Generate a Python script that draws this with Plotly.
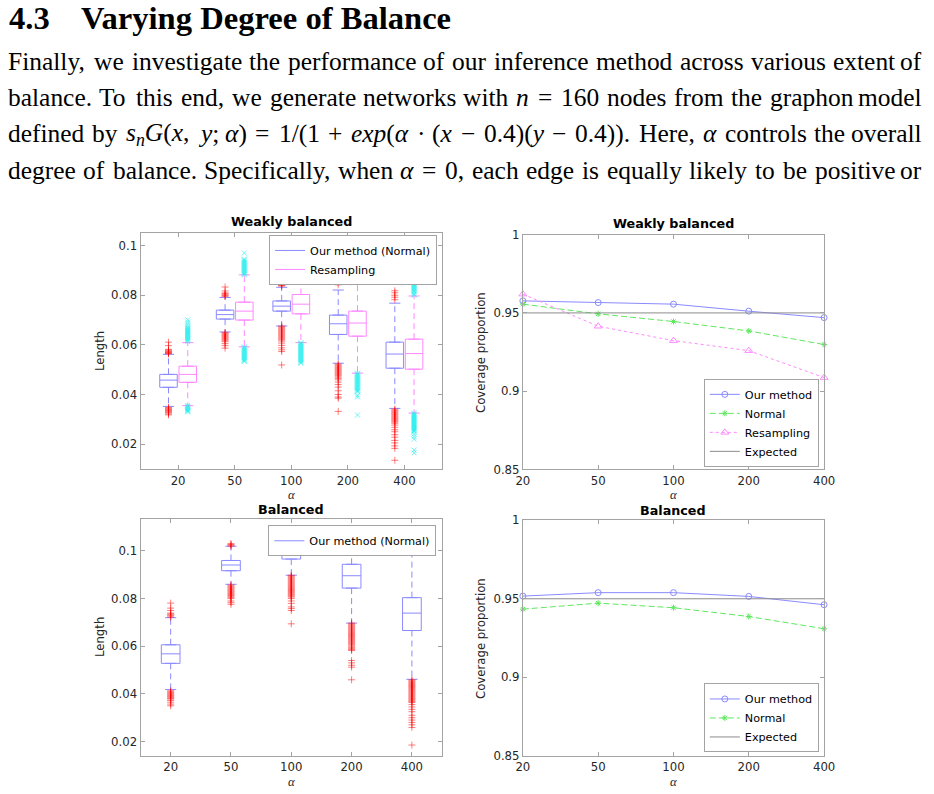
import plotly.graph_objects as go
import re

W, H = 934, 794
# The photograph shows the page with an 8px offset and a slight downscale;
# positions below are given in photo pixels and mapped to figure pixels.
OFF = 8
SX, SY = 934 / 950, 794 / 810
SF = (SX + SY) / 2

# ---------------- data ----------------
alpha_labels = ["20", "50", "100", "200", "400"]
alpha_idx = [1, 2, 3, 4, 5]

# Weakly balanced - interval length - Our method (Normal)
wb_our_q1 = [0.0429, 0.0704, 0.0736, 0.0642, 0.0506]
wb_our_med = [0.0458, 0.0722, 0.0756, 0.0685, 0.0563]
wb_our_q3 = [0.0481, 0.0740, 0.0777, 0.0720, 0.0611]
wb_our_lo = [0.0352, 0.0652, 0.0676, 0.0526, 0.0344]
wb_our_hi = [0.0562, 0.0791, 0.0832, 0.0821, 0.0768]
wb_our_out = [
    [0.0611, 0.0597, 0.0582, 0.0579, 0.0576, 0.0573, 0.0570, 0.0568, 0.0566, 0.0564,
     0.0348, 0.0345, 0.0342, 0.0339, 0.0336, 0.0333, 0.0330, 0.0327, 0.0322, 0.0318],
    [0.0833, 0.0817, 0.0809, 0.0806, 0.0802, 0.0799, 0.0795,
     0.0650, 0.0646, 0.0642, 0.0638, 0.0634, 0.0630, 0.0626, 0.0622, 0.0618, 0.0613,
     0.0605, 0.0597, 0.0587],
    [0.0857, 0.0849, 0.0845, 0.0842, 0.0839, 0.0837,
     0.0676, 0.0672, 0.0668, 0.0664, 0.0660, 0.0656, 0.0652, 0.0648, 0.0644, 0.0640,
     0.0636, 0.0632, 0.0628, 0.0624, 0.0620, 0.0615, 0.0607, 0.0598, 0.0588, 0.0580,
     0.0573, 0.0519],
    [0.0852, 0.0842,
     0.0523, 0.0519, 0.0515, 0.0511, 0.0507, 0.0503, 0.0499, 0.0495, 0.0491, 0.0487,
     0.0483, 0.0479, 0.0475, 0.0470, 0.0465, 0.0459, 0.0450, 0.0440, 0.0430, 0.0415,
     0.0400, 0.0390, 0.0385, 0.0332],
    [0.0818, 0.0810, 0.0800, 0.0792, 0.0782,
     0.0341, 0.0337, 0.0333, 0.0329, 0.0325, 0.0321, 0.0317, 0.0313, 0.0309, 0.0305,
     0.0301, 0.0297, 0.0293, 0.0289, 0.0284, 0.0277, 0.0268, 0.0258, 0.0250, 0.0238,
     0.0228, 0.0215, 0.0205, 0.0193, 0.0183, 0.0135],
]

# Weakly balanced - interval length - Resampling
wb_res_q1 = [0.0449, 0.0700, 0.0725, 0.0635, 0.0502]
wb_res_med = [0.0481, 0.0736, 0.0764, 0.0688, 0.0565]
wb_res_q3 = [0.0514, 0.0772, 0.0803, 0.0736, 0.0623]
wb_res_lo = [0.0355, 0.0592, 0.0609, 0.0486, 0.0325]
wb_res_hi = [0.0609, 0.0882, 0.0930, 0.0887, 0.0797]
wb_res_out = [
    [0.0701, 0.0692, 0.0684, 0.0676, 0.0670, 0.0666, 0.0662, 0.0658, 0.0654, 0.0650,
     0.0646, 0.0642, 0.0638, 0.0634, 0.0630, 0.0626, 0.0622, 0.0618, 0.0613,
     0.0356, 0.0352, 0.0348, 0.0344, 0.0340, 0.0336, 0.0333, 0.0330],
    [0.0970, 0.0946, 0.0942, 0.0938, 0.0934, 0.0930, 0.0926, 0.0922, 0.0918, 0.0914,
     0.0910, 0.0906, 0.0902, 0.0898, 0.0894, 0.0890, 0.0886, 0.0882,
     0.0592, 0.0588, 0.0584, 0.0580, 0.0576, 0.0572, 0.0568, 0.0564, 0.0560, 0.0556,
     0.0552, 0.0548, 0.0544, 0.0540, 0.0536, 0.0533],
    [0.0945, 0.0950, 0.0958,
     0.0609, 0.0605, 0.0601, 0.0597, 0.0593, 0.0589, 0.0585, 0.0581, 0.0577, 0.0573,
     0.0569, 0.0565, 0.0561, 0.0557, 0.0553, 0.0549, 0.0545, 0.0541, 0.0537, 0.0533,
     0.0529, 0.0526],
    [0.0916, 0.0910, 0.0904, 0.0898,
     0.0486, 0.0482, 0.0478, 0.0474, 0.0470, 0.0466, 0.0462, 0.0458, 0.0454, 0.0450,
     0.0446, 0.0442, 0.0438, 0.0434, 0.0430, 0.0426, 0.0422, 0.0418, 0.0414, 0.0411,
     0.0397, 0.0390, 0.0317],
    [0.0883, 0.0879, 0.0875, 0.0871, 0.0867, 0.0863, 0.0859, 0.0855, 0.0851, 0.0847,
     0.0843, 0.0839, 0.0835, 0.0831, 0.0827, 0.0823, 0.0819, 0.0815, 0.0811, 0.0805,
     0.0800,
     0.0325, 0.0321, 0.0317, 0.0313, 0.0309, 0.0305, 0.0301, 0.0297, 0.0293, 0.0289,
     0.0285, 0.0281, 0.0277, 0.0273, 0.0269, 0.0265, 0.0261, 0.0257, 0.0253, 0.0250,
     0.0240, 0.0230, 0.0220, 0.0176, 0.0165],
]

# Balanced - interval length - Our method (Normal)
b_our_q1 = [0.0528, 0.0917, 0.0966, 0.0844, 0.0666]
b_our_med = [0.0568, 0.0941, 0.0989, 0.0896, 0.0739]
b_our_q3 = [0.0606, 0.0960, 0.1008, 0.0944, 0.0804]
b_our_lo = [0.0418, 0.0860, 0.0898, 0.0697, 0.0461]
b_our_hi = [0.0720, 0.1020, 0.1060, 0.1060, 0.1010]
b_our_out = [
    [0.0781, 0.0760, 0.0750, 0.0739, 0.0735, 0.0731, 0.0727, 0.0722,
     0.0413, 0.0409, 0.0405, 0.0401, 0.0397, 0.0393, 0.0389, 0.0385, 0.0381, 0.0378,
     0.0372, 0.0365, 0.0357, 0.0350],
    [0.1031, 0.1027, 0.1024, 0.1020,
     0.0857, 0.0853, 0.0849, 0.0845, 0.0841, 0.0837, 0.0833, 0.0829, 0.0825, 0.0821,
     0.0817, 0.0813, 0.0809, 0.0804, 0.0800, 0.0790, 0.0783, 0.0776],
    [0.0898, 0.0894, 0.0890, 0.0886, 0.0882, 0.0878, 0.0874, 0.0870, 0.0866, 0.0862,
     0.0858, 0.0854, 0.0850, 0.0846, 0.0842, 0.0838, 0.0834, 0.0830, 0.0826, 0.0822,
     0.0818, 0.0814, 0.0810, 0.0806, 0.0800, 0.0790, 0.0780, 0.0765, 0.0758, 0.0750,
     0.0694],
    [0.0697, 0.0693, 0.0689, 0.0685, 0.0681, 0.0677, 0.0673, 0.0669, 0.0665, 0.0661,
     0.0657, 0.0653, 0.0649, 0.0645, 0.0641, 0.0637, 0.0633, 0.0629, 0.0625, 0.0621,
     0.0617, 0.0613, 0.0609, 0.0605, 0.0600, 0.0595, 0.0590, 0.0586, 0.0582, 0.0540,
     0.0530, 0.0520, 0.0512, 0.0459],
    [0.1031, 0.1027, 0.1024, 0.1020,
     0.0459, 0.0455, 0.0451, 0.0447, 0.0443, 0.0439, 0.0435, 0.0431, 0.0427, 0.0423,
     0.0419, 0.0415, 0.0411, 0.0407, 0.0403, 0.0399, 0.0395, 0.0391, 0.0387, 0.0383,
     0.0379, 0.0375, 0.0371, 0.0367, 0.0364, 0.0355, 0.0345, 0.0335, 0.0325, 0.0310,
     0.0300, 0.0290, 0.0280, 0.0270, 0.0259, 0.0185],
]

# Coverage proportions
wb_cov_our = [0.9577, 0.9566, 0.9556, 0.9511, 0.9470]
wb_cov_normal = [0.9556, 0.9494, 0.9445, 0.9385, 0.9298]
wb_cov_resamp = [0.9620, 0.9415, 0.9323, 0.9259, 0.9087]
b_cov_our = [0.9517, 0.9539, 0.9539, 0.9515, 0.9462]
b_cov_normal = [0.9434, 0.9472, 0.9443, 0.9387, 0.9309]
expected = 0.95

len_ticks = [0.02, 0.04, 0.06, 0.08, 0.1]
len_ticktext = ["0.02", "0.04", "0.06", "0.08", "0.1"]
cov_ticks = [0.85, 0.9, 0.95, 1.0]
cov_ticktext = ["0.85", "0.9", "0.95", "1"]

heading_num = "4.3"
heading_title = "Varying Degree of Balance"
para_lines = [
    ["Finally,", "we", "investigate", "the", "performance", "of", "our", "inference",
     "method", "across", "various", "extent", "of"],
    ["balance.", "To", "this", "end,", "we", "generate", "networks", "with", "<i>n</i>",
     "=", "160", "nodes", "from", "the", "graphon", "model"],
    ["defined", "by", "<i>s<sub>n</sub>G</i>(<i>x</i>,", "<i>y</i>;", "<i>α</i>)", "=",
     "1/(1", "+", "<i>exp</i>(<i>α</i>", "·", "(<i>x</i>", "−", "0.4)(<i>y</i>", "−",
     "0.4)).", "Here,", "<i>α</i>", "controls", "the", "overall"],
    ["degree", "of", "balance.", "Specifically,", "when", "<i>α</i>", "=", "0,", "each",
     "edge", "is", "equally", "likely", "to", "be", "positive", "or"],
]

# ---------------- style ----------------
BLUE = "#8a8aff"
MAG = "#ff88ff"
GREEN = "#5ee85e"
GRAY = "#8c8c8c"
AX = "#a3a3a3"
RED_OUT = "rgba(255,0,0,0.5)"
CYAN_OUT = "rgba(0,235,235,0.55)"
SANS = "DejaVu Sans"
SERIF = "Liberation Serif"


def fs(v):
    """font size given in photo pixels -> figure pixels"""
    return v / SF


PARA_SIZE = fs(25)

BOXW_TOP = 0.31
BOX_OFF = 0.17
BOXW_BOT = 0.31

# Times-compatible advance widths (per 1000 em) for justified text layout
ROMAN_W = {' ': 250, ',': 250, '.': 250, ';': 278, ':': 278, '(': 333, ')': 333, '/': 278,
           '=': 564, '+': 564, '−': 564, '·': 250, 'α': 520,
           'a': 444, 'b': 500, 'c': 444, 'd': 500, 'e': 444, 'f': 333, 'g': 500, 'h': 500,
           'i': 278, 'j': 278, 'k': 500, 'l': 278, 'm': 778, 'n': 500, 'o': 500, 'p': 500,
           'q': 500, 'r': 333, 's': 389, 't': 278, 'u': 500, 'v': 500, 'w': 722, 'x': 500,
           'y': 500, 'z': 444, 'F': 556, 'G': 722, 'H': 722, 'S': 556, 'T': 611}
ITALIC_W = {'a': 500, 'e': 444, 'G': 722, 'n': 500, 'p': 500, 's': 389, 'x': 444, 'y': 444,
            'α': 520}


def text_width(s, size):
    w = 0.0
    ital = False
    sub = False
    for part in re.split(r"(<[^>]+>)", s):
        if part == "<i>":
            ital = True
        elif part == "</i>":
            ital = False
        elif part == "<sub>":
            sub = True
        elif part == "</sub>":
            sub = False
        elif part:
            for ch in part:
                if ch.isdigit():
                    cw = 500
                elif ital and ch in ITALIC_W:
                    cw = ITALIC_W[ch]
                else:
                    cw = ROMAN_W.get(ch, 500)
                w += cw * (0.7 if sub else 1.0)
    return w * size / 1000.0


def fx(i):
    return i / SX - OFF


def fy(i):
    return i / SY - OFF


def px(i):
    return fx(i) / W


def py(i):
    return 1 - fy(i) / H


fig = go.Figure()


def add_box_series(xpos, q1, med, q3, lo, hi, out, color, outcolor, outsym, width, xa, ya):
    fig.add_trace(go.Box(
        x=xpos, q1=q1, median=med, q3=q3, lowerfence=q1, upperfence=q3,
        width=width, whiskerwidth=0, boxpoints=False,
        line=dict(color=color, width=1), fillcolor="rgba(255,255,255,0)",
        showlegend=False, hoverinfo="skip", xaxis=xa, yaxis=ya))
    wx, wy = [], []
    for p, a, b, c, d in zip(xpos, q3, hi, q1, lo):
        wx += [p, p, None, p, p, None]
        wy += [a, b, None, c, d, None]
    fig.add_trace(go.Scatter(
        x=wx, y=wy, mode="lines+markers",
        line=dict(color=color, width=1, dash="6px,4px"),
        marker=dict(symbol="line-ew", size=8, line=dict(color=color, width=1)),
        showlegend=False, hoverinfo="skip", xaxis=xa, yaxis=ya))
    ox, oy = [], []
    for p, vals in zip(xpos, out):
        ox += [p] * len(vals)
        oy += vals
    fig.add_trace(go.Scatter(
        x=ox, y=oy, mode="markers",
        marker=dict(symbol=outsym, size=5, color=outcolor,
                    line=dict(color=outcolor, width=1)),
        showlegend=False, hoverinfo="skip", xaxis=xa, yaxis=ya))


def legend_line(name, color, legend, xa, ya):
    fig.add_trace(go.Scatter(
        x=[None], y=[None], mode="lines", name=name,
        line=dict(color=color, width=1), legend=legend, xaxis=xa, yaxis=ya))


# Top-left: weakly balanced lengths
add_box_series([i - BOX_OFF for i in alpha_idx], wb_our_q1, wb_our_med, wb_our_q3,
               wb_our_lo, wb_our_hi, wb_our_out, BLUE, RED_OUT, "cross-thin", BOXW_TOP, "x", "y")
add_box_series([i + BOX_OFF for i in alpha_idx], wb_res_q1, wb_res_med, wb_res_q3,
               wb_res_lo, wb_res_hi, wb_res_out, MAG, CYAN_OUT, "x-thin", BOXW_TOP, "x", "y")
legend_line("Our method (Normal)", BLUE, "legend", "x", "y")
legend_line("Resampling", MAG, "legend", "x", "y")

# Bottom-left: balanced lengths
add_box_series(alpha_idx, b_our_q1, b_our_med, b_our_q3, b_our_lo, b_our_hi, b_our_out,
               BLUE, RED_OUT, "cross-thin", BOXW_BOT, "x3", "y3")
legend_line("Our method (Normal)", BLUE, "legend3", "x3", "y3")


def cov_traces(our, normal, resamp, xa, ya, legend):
    fig.add_trace(go.Scatter(
        x=alpha_idx, y=our, mode="lines+markers", name="Our method",
        line=dict(color=BLUE, width=1),
        marker=dict(symbol="circle-open", size=6, color=BLUE, line=dict(width=1)),
        cliponaxis=False, legend=legend, xaxis=xa, yaxis=ya))
    fig.add_trace(go.Scatter(
        x=alpha_idx, y=normal, mode="lines+markers", name="Normal",
        line=dict(color=GREEN, width=1, dash="6px,3px"),
        marker=dict(symbol="asterisk-open", size=5, color=GREEN, line=dict(width=1, color=GREEN)),
        cliponaxis=False, legend=legend, xaxis=xa, yaxis=ya))
    if resamp is not None:
        fig.add_trace(go.Scatter(
            x=alpha_idx, y=resamp, mode="lines+markers", name="Resampling",
            line=dict(color=MAG, width=1, dash="dot"),
            marker=dict(symbol="triangle-up-open", size=7, color=MAG, line=dict(width=1)),
            cliponaxis=False, legend=legend, xaxis=xa, yaxis=ya))
    fig.add_trace(go.Scatter(
        x=alpha_idx, y=[expected] * len(alpha_idx), mode="lines", name="Expected",
        line=dict(color=GRAY, width=1), legend=legend, xaxis=xa, yaxis=ya))


cov_traces(wb_cov_our, wb_cov_normal, wb_cov_resamp, "x2", "y2", "legend2")
cov_traces(b_cov_our, b_cov_normal, None, "x4", "y4", "legend4")

# ---------------- axes ----------------
base_ax = dict(showline=True, linecolor=AX, linewidth=1, mirror="ticks",
               ticks="inside", ticklen=4, tickcolor=AX, tickwidth=1,
               showgrid=False, zeroline=False,
               tickfont=dict(family=SANS, size=fs(11.5), color="#262626"))

# panel frames in photo pixels: left, right, top, bottom
boxes = {
    "TL": (141.7, 444.0, 233.3, 469.3),
    "TR": (525.0, 827.0, 235.0, 469.3),
    "BL": (141.7, 444.0, 518.3, 755.0),
    "BR": (525.0, 827.0, 520.0, 755.0),
}


def xdom(k):
    l, r, t, b = boxes[k]
    return [px(l), px(r)]


def ydom(k):
    l, r, t, b = boxes[k]
    return [py(b), py(t)]


layout_axes = dict(
    xaxis=dict(base_ax, domain=xdom("TL"), anchor="y", range=[0.335, 5.665],
               tickvals=alpha_idx, ticktext=alpha_labels),
    yaxis=dict(base_ax, domain=ydom("TL"), anchor="x", range=[0.0098, 0.1051],
               tickvals=len_ticks, ticktext=len_ticktext),
    xaxis2=dict(base_ax, domain=xdom("TR"), anchor="y2", range=[1, 5],
                tickvals=alpha_idx, ticktext=alpha_labels),
    yaxis2=dict(base_ax, domain=ydom("TR"), anchor="x2", range=[0.85, 1.0],
                tickvals=cov_ticks, ticktext=cov_ticktext),
    xaxis3=dict(base_ax, domain=xdom("BL"), anchor="y3", range=[0.5, 5.5],
                tickvals=alpha_idx, ticktext=alpha_labels),
    yaxis3=dict(base_ax, domain=ydom("BL"), anchor="x3", range=[0.014, 0.1136],
                tickvals=len_ticks, ticktext=len_ticktext),
    xaxis4=dict(base_ax, domain=xdom("BR"), anchor="y4", range=[1, 5],
                tickvals=alpha_idx, ticktext=alpha_labels),
    yaxis4=dict(base_ax, domain=ydom("BR"), anchor="x4", range=[0.85, 1.0],
                tickvals=cov_ticks, ticktext=cov_ticktext),
)

leg_base = dict(bordercolor=AX, borderwidth=1, bgcolor="white",
                font=dict(family=SANS, size=fs(11), color="black"),
                tracegroupgap=0, itemwidth=30)

# ---------------- annotations ----------------
ann = []
ann.append(dict(text="<b>%s</b>" % heading_num, x=0, y=py(19), xanchor="left",
                yanchor="middle", font=dict(family=SERIF, size=fs(32), color="black")))
ann.append(dict(text="<b>%s</b>" % heading_title, x=px(80), y=py(19), xanchor="left",
                yanchor="middle", font=dict(family=SERIF, size=fs(32), color="black")))

# justified paragraph (figure-pixel layout): each line spans the full text width
left_f, right_f = 0.0, min(fx(926) + 5, W - 0.5)
line_y = [62, 98, 134.5, 171]
for words, yy in zip(para_lines, line_y):
    widths = [text_width(wd, PARA_SIZE) for wd in words]
    gap = (right_f - left_f - sum(widths)) / (len(words) - 1)
    xcur = left_f
    for j, (wd, wdw) in enumerate(zip(words, widths)):
        last = j == len(words) - 1
        ann.append(dict(text=wd, x=(right_f if last else xcur) / W, y=py(yy),
                        xanchor="right" if last else "left", yanchor="middle",
                        borderpad=0,
                        font=dict(family=SERIF, size=PARA_SIZE, color="black")))
        xcur += wdw + gap

# subplot titles and axis labels
titles = [("Weakly balanced", "TL", 222.3), ("Weakly balanced", "TR", 224),
          ("Balanced", "BL", 509), ("Balanced", "BR", 510)]
for t, k, yy in titles:
    l, r, tt, b = boxes[k]
    ann.append(dict(text="<b>%s</b>" % t, x=px((l + r) / 2), y=py(yy), xanchor="center",
                    yanchor="middle", font=dict(family=SANS, size=fs(12.5), color="black")))

for k, lab, xx in [("TL", "Length", 101), ("BL", "Length", 101),
                   ("TR", "Coverage proportion", 483), ("BR", "Coverage proportion", 483)]:
    l, r, t, b = boxes[k]
    ann.append(dict(text=lab, x=px(xx), y=py((t + b) / 2), textangle=-90,
                    xanchor="center", yanchor="middle",
                    font=dict(family=SANS, size=fs(11.5), color="#262626")))

for k, yy in [("TL", 495), ("TR", 495), ("BL", 781), ("BR", 781)]:
    l, r, t, b = boxes[k]
    ann.append(dict(text="<i>α</i>", x=px((l + r) / 2), y=py(yy), xanchor="center",
                    yanchor="middle", font=dict(family=SERIF, size=fs(12.5), color="#262626")))

for a in ann:
    a.update(xref="paper", yref="paper", showarrow=False)

fig.update_layout(
    width=W, height=H, margin=dict(l=0, r=0, t=0, b=0),
    paper_bgcolor="white", plot_bgcolor="white",
    boxmode="overlay", showlegend=True,
    legend=dict(leg_base, x=px(439), y=py(235.3), xanchor="right", yanchor="top"),
    legend2=dict(leg_base, x=px(821.7), y=py(466.7), xanchor="right", yanchor="bottom"),
    legend3=dict(leg_base, x=px(438.3), y=py(525), xanchor="right", yanchor="top"),
    legend4=dict(leg_base, x=px(821.7), y=py(751.7), xanchor="right", yanchor="bottom"),
    annotations=ann,
    **layout_axes,
)

fig.write_html("out.html")
